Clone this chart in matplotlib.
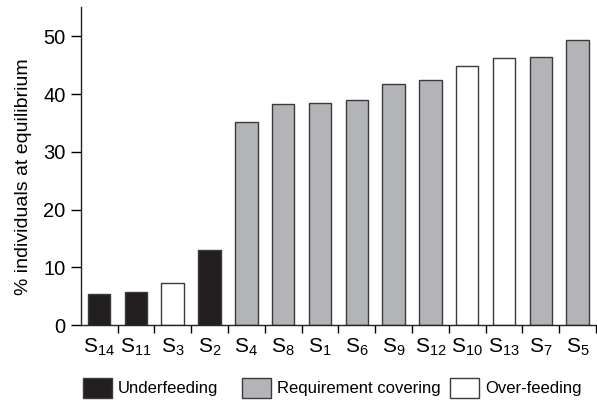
import matplotlib
matplotlib.use("Agg")
import matplotlib.pyplot as plt
from matplotlib.patches import Rectangle

plt.rcParams['font.family'] = ['Liberation Sans', 'DejaVu Sans']
plt.rcParams['mathtext.fontset'] = 'custom'
plt.rcParams['mathtext.rm'] = 'Liberation Sans'

categories = ['14', '11', '3', '2', '4', '8', '1', '6', '9', '12', '10', '13', '7', '5']
values = [5.4, 5.8, 7.3, 13.1, 35.1, 38.2, 38.5, 39.0, 41.8, 42.5, 44.8, 46.2, 46.4, 49.3]
groups = ['U', 'U', 'O', 'U', 'R', 'R', 'R', 'R', 'R', 'R', 'O', 'O', 'R', 'R']
group_order = ['U', 'R', 'O']
group_labels = {'U': 'Underfeeding', 'R': 'Requirement covering', 'O': 'Over-feeding'}
group_colors = {'U': '#231f20', 'R': '#b3b4b8', 'O': '#ffffff'}
y_ticks = [0, 10, 20, 30, 40, 50]

W, H = 597, 400
fig = plt.figure(figsize=(W / 100, H / 100), dpi=100)
ax = fig.add_axes([80.7 / W, 74.7 / H, (596 - 80.7) / W, (325.3 - 7.3) / H])

x = list(range(len(categories)))
ax.bar(x, values, width=0.61, color=[group_colors[g] for g in groups],
       edgecolor='#3a3a3a', linewidth=1.0, zorder=2)

ax.set_xlim(-0.5, len(categories) - 0.5)
ax.set_ylim(0, 55)
ax.set_yticks(y_ticks)
ax.set_yticklabels([str(t) for t in y_ticks], fontsize=14.5)
ax.tick_params(axis='y', direction='out', length=7, width=1, pad=4)

ax.set_xticks([i + 0.5 for i in x])
ax.set_xticklabels([])
ax.tick_params(axis='x', which='major', direction='out', length=6, width=1)
ax.set_xticks(x, minor=True)
ax.set_xticklabels([r'$\mathregular{S_{%s}}$' % c for c in categories], minor=True, fontsize=15)
ax.tick_params(axis='x', which='minor', length=0, pad=8)

for s in ['top', 'right']:
    ax.spines[s].set_visible(False)
for s in ['left', 'bottom']:
    ax.spines[s].set_linewidth(1.0)
    ax.spines[s].set_color('#222222')

ax.set_ylabel('% individuals at equilibrium', fontsize=14)
ax.yaxis.set_label_coords(32 / W, (400 - 177) / H, transform=fig.transFigure)

# legend (drawn manually to match placement)
patch_x = [82.7, 241.7, 450.0]
for k, px in zip(group_order, patch_x):
    fig.add_artist(Rectangle((px / W, (400 - 398.3) / H), 29 / W, 20 / H,
                             transform=fig.transFigure, facecolor=group_colors[k],
                             edgecolor='#3a3a3a', linewidth=1.0))
    fig.text((px + 35) / W, (400 - 388.3) / H, group_labels[k], fontsize=12,
             ha='left', va='center')

fig.savefig('out.png', dpi=100)
